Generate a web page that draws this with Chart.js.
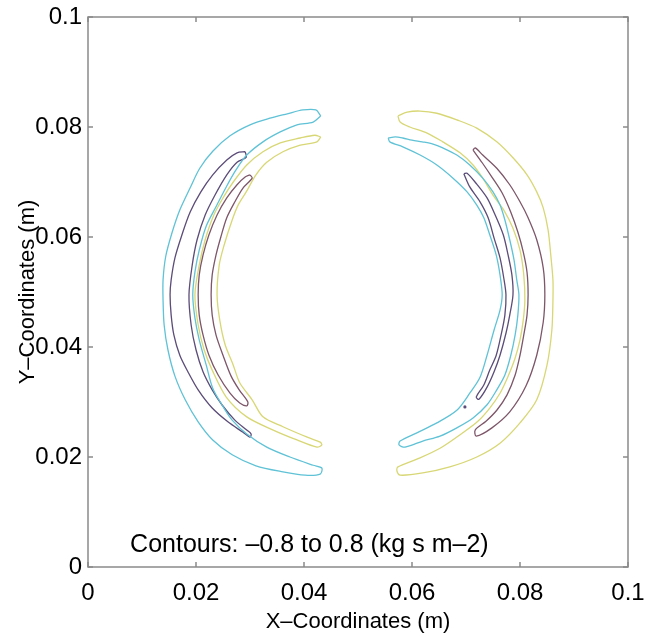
<!DOCTYPE html>
<html>
<head>
<meta charset="utf-8">
<script src="https://cdn.jsdelivr.net/npm/chart.js@4.4.1/dist/chart.umd.min.js"></script>
<style>
  html, body { margin: 0; padding: 0; background: #fff; }
</style>
</head>
<body>
<canvas id="myChart" width="647" height="644"></canvas>
<script>
// axis ticks (m)
const xTicks = [0, 0.02, 0.04, 0.06, 0.08, 0.1];
const yTicks = [0, 0.02, 0.04, 0.06, 0.08, 0.1];
const tickLabels = ['0', '0.02', '0.04', '0.06', '0.08', '0.1'];

// contour lines, [x, y] in cm
const leftCyan = [[4.31,8.20],[4.22,8.31],[3.98,8.31],[3.69,8.24],[3.37,8.16],[3.00,8.04],[2.63,7.84],[2.31,7.56],[2.07,7.25],[1.89,6.89],[1.70,6.49],[1.56,6.09],[1.44,5.65],[1.39,5.22],[1.39,4.85],[1.41,4.40],[1.48,3.95],[1.61,3.47],[1.80,3.04],[2.04,2.64],[2.31,2.31],[2.67,2.04],[3.11,1.84],[3.61,1.73],[4.02,1.67],[4.30,1.69],[4.33,1.80],
  [4.17,1.85],[3.74,2.00],[3.31,2.18],[2.94,2.42],[2.67,2.67],[2.48,2.95],[2.31,3.25],[2.19,3.67],[2.06,4.13],[1.98,4.53],[1.94,4.95],[1.98,5.36],[2.06,5.76],[2.19,6.20],[2.37,6.55],[2.56,6.91],[2.74,7.22],[2.94,7.49],[3.24,7.73],[3.56,7.91],[3.87,8.04],[4.17,8.09],[4.31,8.20]];
const leftPurple = [[2.91,7.55],[2.76,7.53],[2.57,7.40],[2.31,7.13],[2.09,6.82],[1.89,6.45],[1.74,6.04],[1.61,5.62],[1.54,5.22],[1.52,4.95],[1.54,4.58],[1.59,4.22],[1.70,3.85],[1.85,3.55],[2.04,3.22],[2.30,2.89],[2.59,2.64],[2.87,2.45],[3.00,2.36],
  [3.02,2.42],[2.94,2.49],[2.72,2.67],[2.48,2.95],[2.30,3.22],[2.13,3.55],[2.00,3.95],[1.91,4.40],[1.87,4.95],[1.93,5.49],[2.02,5.95],[2.17,6.40],[2.35,6.76],[2.57,7.13],[2.76,7.36],[2.93,7.45],[2.91,7.55]];
const leftBrown = [[3.00,7.13],[2.91,7.09],[2.76,6.95],[2.57,6.71],[2.39,6.40],[2.24,6.04],[2.13,5.67],[2.06,5.31],[2.04,4.95],[2.06,4.58],[2.13,4.22],[2.24,3.85],[2.41,3.49],[2.63,3.16],[2.81,2.98],[2.94,2.93],
  [2.96,3.00],[2.80,3.22],[2.65,3.47],[2.50,3.85],[2.37,4.22],[2.30,4.58],[2.28,4.95],[2.30,5.31],[2.37,5.67],[2.46,6.00],[2.57,6.35],[2.72,6.64],[2.87,6.89],[3.04,7.07],[3.00,7.13]];
const leftYellow = [[4.31,7.82],[4.20,7.85],[3.93,7.80],[3.56,7.71],[3.24,7.55],[2.94,7.31],[2.69,7.00],[2.50,6.71],[2.33,6.40],[2.17,5.95],[2.06,5.49],[1.98,4.95],[2.04,4.40],[2.15,3.95],[2.30,3.58],[2.56,3.09],[2.94,2.73],[3.43,2.49],[3.87,2.31],[4.24,2.18],[4.33,2.22],
  [4.30,2.27],[4.06,2.36],[3.61,2.55],[3.24,2.73],[3.04,3.04],[2.81,3.35],[2.69,3.67],[2.54,4.04],[2.44,4.49],[2.39,4.95],[2.43,5.49],[2.52,5.85],[2.67,6.31],[2.78,6.58],[2.93,6.82],[3.11,7.13],[3.31,7.36],[3.61,7.55],[3.93,7.67],[4.24,7.73],[4.31,7.82]];

const rightCyan = [[5.56,7.80],[5.69,7.82],[5.83,7.80],[6.00,7.76],[6.19,7.73],[6.39,7.69],[6.57,7.62],[6.83,7.49],[7.07,7.31],[7.31,7.07],[7.50,6.82],[7.63,6.58],[7.72,6.31],[7.81,5.95],[7.89,5.58],[7.94,5.22],[7.98,4.95],[7.96,4.58],[7.91,4.22],[7.83,3.85],[7.72,3.49],[7.57,3.22],[7.39,2.95],[7.13,2.71],[6.83,2.53],[6.52,2.38],[6.20,2.29],[5.87,2.18],[5.76,2.22],
  [5.78,2.29],[6.09,2.44],[6.46,2.62],[6.83,2.85],[7.07,3.16],[7.26,3.45],[7.39,3.85],[7.52,4.31],[7.63,4.67],[7.67,4.95],[7.63,5.31],[7.56,5.67],[7.44,6.04],[7.33,6.35],[7.20,6.58],[7.02,6.82],[6.76,7.07],[6.46,7.31],[6.15,7.49],[5.83,7.64],[5.59,7.73],[5.56,7.80]];
const rightPurple = [[6.96,7.15],[7.07,6.91],[7.26,6.64],[7.41,6.35],[7.52,5.98],[7.63,5.62],[7.70,5.25],[7.74,4.95],[7.72,4.58],[7.65,4.22],[7.56,3.85],[7.44,3.58],[7.33,3.31],[7.19,3.09],
  [7.24,3.05],[7.39,3.27],[7.52,3.55],[7.63,3.85],[7.74,4.25],[7.81,4.58],[7.87,4.95],[7.85,5.31],[7.78,5.67],[7.69,6.04],[7.54,6.40],[7.39,6.71],[7.20,6.96],[7.02,7.16],[6.96,7.15]];
const rightBrown = [[7.13,7.58],[7.30,7.35],[7.48,7.09],[7.67,6.80],[7.83,6.45],[7.96,6.09],[8.06,5.73],[8.13,5.36],[8.15,4.95],[8.13,4.58],[8.07,4.22],[8.00,3.85],[7.91,3.49],[7.76,3.13],[7.57,2.85],[7.37,2.65],[7.17,2.49],
  [7.19,2.38],[7.48,2.53],[7.81,2.82],[8.11,3.29],[8.31,3.85],[8.43,4.45],[8.46,4.95],[8.43,5.44],[8.31,5.95],[8.15,6.35],[8.00,6.64],[7.81,6.95],[7.57,7.25],[7.31,7.49],[7.17,7.62],[7.13,7.58]];
const rightYellow = [[5.74,8.20],[5.91,8.27],[6.15,8.29],[6.46,8.25],[6.83,8.13],[7.20,7.98],[7.57,7.73],[7.87,7.44],[8.13,7.13],[8.31,6.82],[8.43,6.53],[8.52,6.13],[8.57,5.67],[8.61,5.22],[8.61,4.85],[8.59,4.31],[8.50,3.67],[8.31,3.04],[8.00,2.62],[7.63,2.25],[7.20,2.00],[6.70,1.82],[6.20,1.71],[5.78,1.67],[5.72,1.75],
  [5.74,1.82],[6.09,1.96],[6.52,2.16],[6.94,2.44],[7.22,2.65],[7.44,2.89],[7.63,3.16],[7.78,3.47],[7.91,3.80],[8.00,4.13],[8.06,4.49],[8.09,4.85],[8.07,5.31],[8.00,5.76],[7.87,6.16],[7.70,6.49],[7.50,6.76],[7.31,7.07],[7.13,7.31],[6.89,7.53],[6.57,7.73],[6.28,7.89],[5.96,8.00],[5.78,8.09],[5.74,8.20]];
const rightDot = [[6.98,2.91]];

const CYAN = '#5fc2d6';
const YELLOW = '#d8d775';
const PURPLE = '#5b4c78';
const BROWN = '#7d5668';

const contourNote = 'Contours: \u20130.8 to 0.8 (kg s m\u20132)';
const noteAt = [0.0078, 0.0039];

const FONT = "'Liberation Sans', Arial, Helvetica, sans-serif";
const AXIS_GREY = '#8a8a8a';

function toMeters(pts) {
    return pts.map(p => ({ x: p[0] / 100, y: p[1] / 100 }));
}

function contour(pts, color) {
    return {
        data: toMeters(pts),
        showLine: true,
        borderColor: color,
        borderWidth: 1.3,
        pointRadius: 0,
        fill: false,
        tension: 0.3
    };
}

// keep the plot box fixed, labels may overhang the padding
function noScalePadding(s) {
    s.paddingTop = 0; s.paddingBottom = 0;
    s.paddingLeft = 0; s.paddingRight = 0;
}

// MATLAB style box with inward ticks, plus the contour note
const boxTicks = {
    id: 'boxTicks',
    afterDraw(chart) {
        const { ctx, chartArea: a, scales: { x, y } } = chart;
        ctx.save();
        ctx.strokeStyle = AXIS_GREY;
        ctx.lineWidth = 1.5;
        ctx.strokeRect(a.left, a.top, a.right - a.left, a.bottom - a.top);
        ctx.beginPath();
        xTicks.forEach(v => {
            const px = x.getPixelForValue(v);
            ctx.moveTo(px, a.bottom); ctx.lineTo(px, a.bottom - 5);
            ctx.moveTo(px, a.top); ctx.lineTo(px, a.top + 5);
        });
        yTicks.forEach(v => {
            const py = y.getPixelForValue(v);
            ctx.moveTo(a.left, py); ctx.lineTo(a.left + 5, py);
            ctx.moveTo(a.right, py); ctx.lineTo(a.right - 5, py);
        });
        ctx.stroke();

        ctx.fillStyle = '#000';
        ctx.font = '25px ' + FONT;
        ctx.textAlign = 'left';
        ctx.textBaseline = 'middle';
        ctx.fillText(contourNote, x.getPixelForValue(noteAt[0]), y.getPixelForValue(noteAt[1]));
        ctx.restore();
    }
};

const ctx = document.getElementById('myChart').getContext('2d');
const myChart = new Chart(ctx, {
    type: 'scatter',
    data: {
        datasets: [
            contour(leftCyan, CYAN),
            contour(leftPurple, PURPLE),
            contour(leftBrown, BROWN),
            contour(leftYellow, YELLOW),
            contour(rightCyan, CYAN),
            contour(rightPurple, PURPLE),
            contour(rightBrown, BROWN),
            contour(rightYellow, YELLOW),
            {
                data: toMeters(rightDot),
                pointRadius: 1.6,
                pointBackgroundColor: PURPLE,
                pointBorderWidth: 0
            }
        ]
    },
    options: {
        responsive: false,
        animation: false,
        devicePixelRatio: 1,
        events: [],
        layout: { padding: { top: 17, right: 19, left: 0, bottom: 0 } },
        plugins: { legend: { display: false }, tooltip: { enabled: false } },
        scales: {
            x: {
                type: 'linear',
                min: 0,
                max: 0.1,
                afterBuildTicks: s => { s.ticks = xTicks.map(v => ({ value: v })); },
                afterFit: s => { s.height = 77; noScalePadding(s); },
                ticks: {
                    callback: (v, i) => tickLabels[i],
                    color: '#000',
                    font: { family: FONT, size: 24 },
                    padding: 12,
                    maxRotation: 0,
                    autoSkip: false
                },
                grid: { display: false, drawTicks: false },
                border: { display: false },
                title: {
                    display: true,
                    text: 'X\u2013Coordinates (m)',
                    color: '#000',
                    font: { family: FONT, size: 22 },
                    padding: { top: 0, bottom: 9 }
                }
            },
            y: {
                type: 'linear',
                min: 0,
                max: 0.1,
                afterBuildTicks: s => { s.ticks = yTicks.map(v => ({ value: v })); },
                afterFit: s => { s.width = 88; noScalePadding(s); },
                ticks: {
                    callback: (v, i) => tickLabels[i],
                    color: '#000',
                    font: { family: FONT, size: 24 },
                    padding: 6,
                    autoSkip: false
                },
                grid: { display: false, drawTicks: false },
                border: { display: false },
                title: {
                    display: true,
                    text: 'Y\u2013Coordinates (m)',
                    color: '#000',
                    font: { family: FONT, size: 22 },
                    padding: { top: 15, bottom: 0 }
                }
            }
        }
    },
    plugins: [boxTicks]
});
</script>
</body>
</html>
